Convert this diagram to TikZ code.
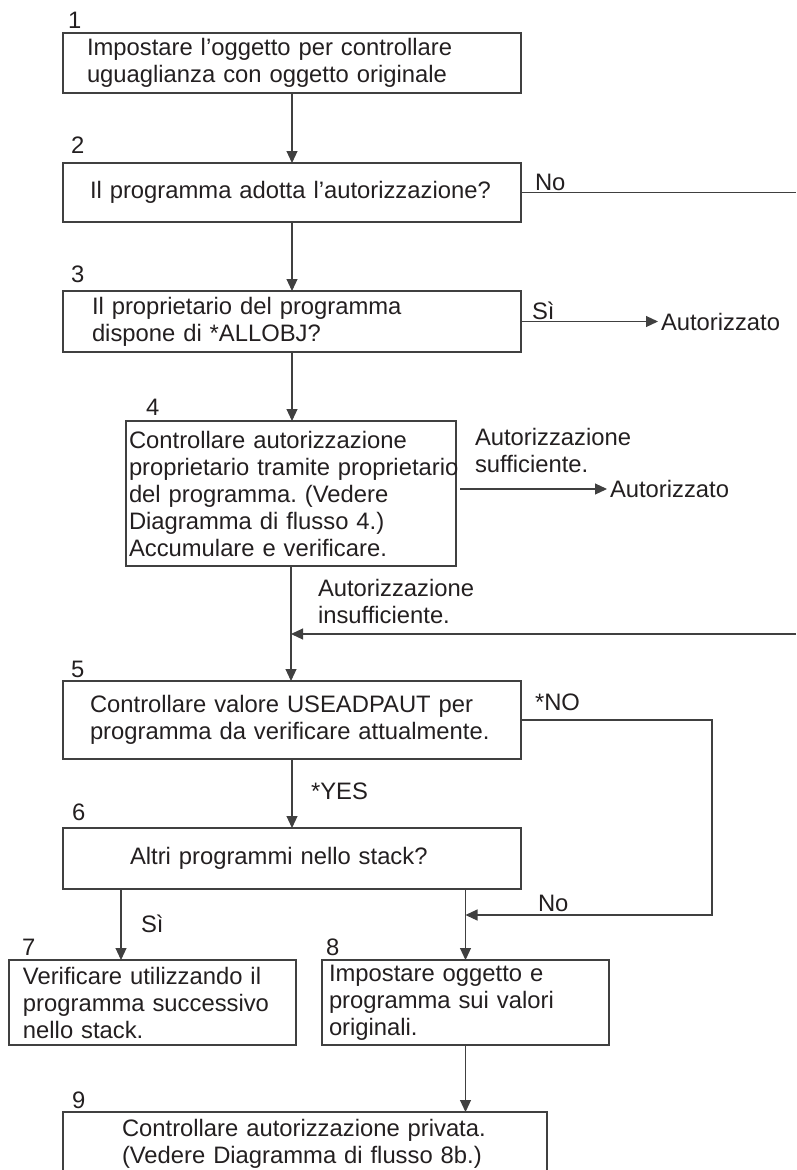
\documentclass[tikz,border=0pt]{standalone}
\usepackage{fontspec}
\setmainfont{Liberation Sans}
\usetikzlibrary{arrows.meta}
\definecolor{linegray}{RGB}{64,64,64}
\definecolor{textdark}{RGB}{35,31,32}
\frenchspacing

\begin{document}
\begin{tikzpicture}[y=1pt, x=1pt, yscale=-1, inner sep=0pt, outer sep=0pt,
  every node/.style={text=textdark, font=\fontsize{23.8pt}{27pt}\selectfont},
  stepbox/.style={draw=linegray, line width=1.1pt, anchor=north west, align=left, rectangle},
  numlabel/.style={anchor=base west},
  flowlabel/.style={anchor=base west, align=left},
  outcome/.style={anchor=west, inner xsep=3pt},
  flow/.style={draw=linegray, line width=1.1pt},
  flowarrow/.style={flow, -{Triangle[length=12pt, width=11pt]}}]
\useasboundingbox (0,0) rectangle (796,1170);

% boxes
\node[stepbox, minimum width=458pt, minimum height=60pt, text width=410pt] (b1) at (63,33) {Impostare l’oggetto per controllare\\uguaglianza con oggetto originale};
\node[stepbox, minimum width=458pt, minimum height=59pt, text width=404pt] (b2) at (63,163) {Il programma adotta l’autorizzazione?};
\node[stepbox, minimum width=458pt, minimum height=61pt, text width=400pt] (b3) at (63,291) {Il proprietario del programma\\dispone di *ALLOBJ?};
\node[stepbox, minimum width=330pt, minimum height=145pt, text width=324pt] (b4) at (126,421) {Controllare autorizzazione\\\mbox{proprietario tramite proprietario}\\del programma. (Vedere\\Diagramma di flusso 4.)\\Accumulare e verificare.};
\node[stepbox, minimum width=458pt, minimum height=78pt, text width=404pt] (b5) at (63,681) {Controllare valore USEADPAUT per\\programma da verificare attualmente.};
\node[stepbox, minimum width=458pt, minimum height=61pt, text width=324pt] (b6) at (63,828) {Altri programmi nello stack?};
\node[stepbox, minimum width=287pt, minimum height=85pt, text width=259pt] (b7) at (9,960) {Verificare utilizzando il\\programma successivo\\nello stack.};
\node[stepbox, minimum width=287pt, minimum height=85pt, text width=273pt] (b8) at (322,960) {Impostare oggetto e\\programma sui valori\\originali.};
\node[stepbox, minimum width=484pt, minimum height=63pt, text width=366pt] (b9) at (63,1112) {Controllare autorizzazione privata.\\(Vedere Diagramma di flusso 8b.)};

% step numbers
\node[numlabel] (n1) at (68,28) {1};
\node[numlabel] (n2) at (71,153) {2};
\node[numlabel] (n3) at (71,282) {3};
\node[numlabel] (n4) at (146,415) {4};
\node[numlabel] (n5) at (71,677) {5};
\node[numlabel] (n6) at (72,820) {6};
\node[numlabel] (n7) at (22,955) {7};
\node[numlabel] (n8) at (326,955) {8};
\node[numlabel] (n9) at (72,1108) {9};

% outcomes
\node[outcome] (a3) at ([xshift=137pt]b3.east) {Autorizzato};
\node[outcome] (a4) at (607,489) {Autorizzato};

% connector labels
\node[flowlabel] (l2) at (535,190) {No};
\node[flowlabel] (l3) at (532,319) {Sì};
\node[flowlabel] (l4s) at (475,472) {Autorizzazione\\sufficiente.};
\node[flowlabel] (l4i) at (318,623) {Autorizzazione\\insufficiente.};
\node[flowlabel] (l5n) at (535,710) {*NO};
\node[flowlabel] (l5y) at (311,799) {*YES};
\node[flowlabel] (l6n) at (538,911) {No};
\node[flowlabel] (l6s) at (141,932) {Sì};

% free ends
\coordinate (e2) at (796,193);
\coordinate (e4) at (796,634);
\coordinate (k5) at (712,915);
\coordinate (s7) at ([xshift=-31.5pt]b7.north);

% connectors
\path[flowarrow] (b1) -- (b2);
\path[flow] (b2.east) -- (b2.east -| e2);
\path[flowarrow] (b2) -- (b3);
\path[flowarrow] (b3.east) -- (a3.west);
\path[flowarrow] (b3.south) -- (b3.south |- b4.north);
\path[flowarrow, shorten <=4pt] (b4.east |- a4.west) -- (a4.west);
\path[flowarrow] (b4.south) -- (b4.south |- b5.north);
\path[flowarrow] (e4) -- (e4 -| b4.south);
\path[flowarrow] (b5) -- (b6);
\path[flowarrow] (b5.east) -| (k5) -- (k5 -| b8.north);
\path[flowarrow] (s7 |- b6.south) -- (s7);
\path[flowarrow] (b8.north |- b6.south) -- (b8.north);
\path[flowarrow] (b8.south) -- (b8.south |- b9.north);
\end{tikzpicture}
\end{document}
